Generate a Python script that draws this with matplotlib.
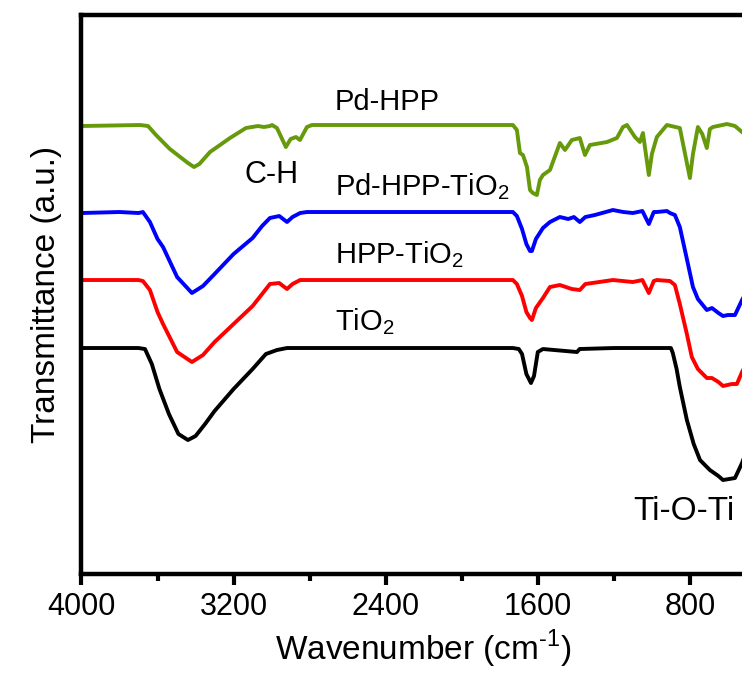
"""
FTIR spectra of TiO2, HPP-TiO2, Pd-HPP-TiO2 and Pd-HPP (offset, a.u.)
"""

import matplotlib
matplotlib.use('Agg')
import matplotlib.pyplot as plt

plt.rcParams['font.family'] = ['Liberation Sans', 'DejaVu Sans']
plt.rcParams['mathtext.fontset'] = 'custom'
plt.rcParams['mathtext.rm'] = 'Liberation Sans'

# Pd-HPP (green)
pd_hpp_x = [4000, 3692, 3650, 3608, 3535, 3440, 3408, 3380, 3324, 3219, 3135, 3072,
            3040, 3009, 2998, 2972, 2925, 2900, 2872, 2851, 2814, 2788, 1731, 1710,
            1694, 1678, 1657, 1641, 1626, 1605, 1589, 1573, 1536, 1484, 1457, 1421,
            1379, 1352, 1326, 1236, 1184, 1152, 1131, 1089, 1063, 1047, 1016, 1000,
            974, 921, 853, 800, 784, 758, 735, 711, 695, 679, 605, 563, 526, 450]
pd_hpp_y = [448, 449, 448, 439, 425, 411, 407, 410, 422, 436, 446, 448,
            447, 448, 449, 446, 427, 435, 437, 434, 447, 449, 449, 444,
            421, 419, 407, 384, 381, 379, 394, 399, 404, 431, 424, 434,
            436, 419, 429, 432, 436, 447, 449, 437, 432, 441, 399, 420,
            437, 449, 446, 396, 420, 447, 440, 426, 445, 447, 450, 448, 442, 430]

# Pd-HPP-TiO2 (blue)
pd_hpp_tio2_x = [4000, 3800, 3700, 3677, 3640, 3600, 3571, 3497, 3419, 3361, 3300, 3200,
                 3100, 3050, 3009, 2960, 2919, 2890, 2850, 2814, 1731, 1710, 1683, 1660,
                 1641, 1631, 1610, 1573, 1536, 1484, 1440, 1410, 1379, 1350, 1300, 1205,
                 1150, 1100, 1050, 1016, 990, 974, 921, 905, 879, 853, 816, 784, 758,
                 711, 684, 650, 626, 600, 563, 526, 450]
pd_hpp_tio2_y = [361, 362, 361, 362, 352, 335, 327, 297, 281, 288, 300, 320,
                 336, 348, 356, 358, 352, 357, 361, 362, 362, 358, 345, 330,
                 323, 323, 335, 346, 352, 357, 355, 357, 352, 357, 359, 364,
                 362, 361, 363, 350, 362, 362, 363, 361, 359, 347, 315, 287, 275,
                 264, 266, 261, 258, 259, 259, 274, 300]

# HPP-TiO2 (red)
hpp_tio2_x = [4000, 3700, 3677, 3640, 3600, 3571, 3497, 3419, 3361, 3300, 3200, 3100,
              3050, 3009, 2960, 2919, 2890, 2850, 1731, 1710, 1683, 1660, 1641, 1631,
              1610, 1573, 1536, 1484, 1421, 1379, 1350, 1205, 1100, 1050, 1016, 990,
              974, 905, 879, 853, 816, 790, 758, 711, 684, 650, 626, 580, 553, 526, 450]
hpp_tio2_y = [294, 294, 293, 284, 262, 250, 222, 212, 219, 232, 250, 268,
              280, 290, 291, 285, 290, 294, 294, 290, 278, 262, 256, 254,
              266, 276, 287, 289, 285, 284, 290, 294, 292, 294, 281, 293,
              294, 293, 289, 270, 240, 217, 205, 196, 196, 192, 188, 190, 190, 202, 230]

# TiO2 (black)
tio2_x = [4000, 3700, 3666, 3630, 3590, 3540, 3490, 3440, 3400, 3350, 3300, 3200,
          3100, 3030, 2972, 2919, 1731, 1700, 1683, 1660, 1636, 1620, 1600, 1573,
          1394, 1380, 1200, 900, 890, 870, 853, 816, 780, 747, 695, 650, 626, 563,
          526, 450]
tio2_y = [226, 226, 225, 210, 185, 160, 140, 134, 138, 150, 163, 185,
          205, 220, 224, 226, 226, 225, 220, 200, 191, 198, 222, 225,
          222, 225, 226, 226, 221, 205, 187, 154, 130, 114, 104, 98, 94, 96,
          111, 150]

series = [
    (tio2_x, tio2_y, 'black'),
    (hpp_tio2_x, hpp_tio2_y, '#ff0000'),
    (pd_hpp_tio2_x, pd_hpp_tio2_y, '#0000ff'),
    (pd_hpp_x, pd_hpp_y, '#669a0a'),
]

# text labels: (text, wavenumber, transmittance, horizontal alignment, size)
labels = [
    ('Pd-HPP', 2667, 464, 'left', 21),
    ('C-H', 3140, 391, 'left', 22),
    ('Pd-HPP-TiO$_2$', 2667, 379, 'left', 21),
    ('HPP-TiO$_2$', 2667, 311, 'left', 21),
    ('TiO$_2$', 2667, 244, 'left', 21),
    ('Ti-O-Ti', 832, 54, 'center', 24),
]


def make_plot():
    """
    Builds the figure; the axes run past the right edge like the original crop.
    """
    fig = plt.figure(figsize=(7.42, 6.79), dpi=100)
    ax = fig.add_axes([0.1098, 0.1546, 0.9225, 0.8233])
    for x, y, color in series:
        ax.plot(x, y, color=color, linewidth=2.8, solid_joinstyle='round')
    for text, x, y, ha, size in labels:
        ax.text(x, y, text, fontsize=size, ha=ha, va='baseline')

    ax.set_xlim(4000, 400)
    ax.set_ylim(0, 559)
    ax.set_xticks([4000, 3200, 2400, 1600, 800])
    ax.set_xticks(range(3600, 399, -800), minor=True)
    ax.set_yticks([])
    ax.tick_params(axis='x', which='major', length=8, width=3, labelsize=22, pad=5)
    ax.tick_params(axis='x', which='minor', length=5, width=3)
    for side in ['left', 'bottom', 'top']:
        ax.spines[side].set_linewidth(3.2)
    ax.spines['right'].set_visible(False)

    ax.set_xlabel(r'Wavenumber (cm$^{\text{-1}}$)', fontsize=24, labelpad=4)
    ax.set_ylabel('Transmittance (a.u.)', fontsize=24, labelpad=14)
    return fig


def main():
    fig = make_plot()
    fig.savefig('out.png', dpi=100)


if __name__ == '__main__':
    main()
